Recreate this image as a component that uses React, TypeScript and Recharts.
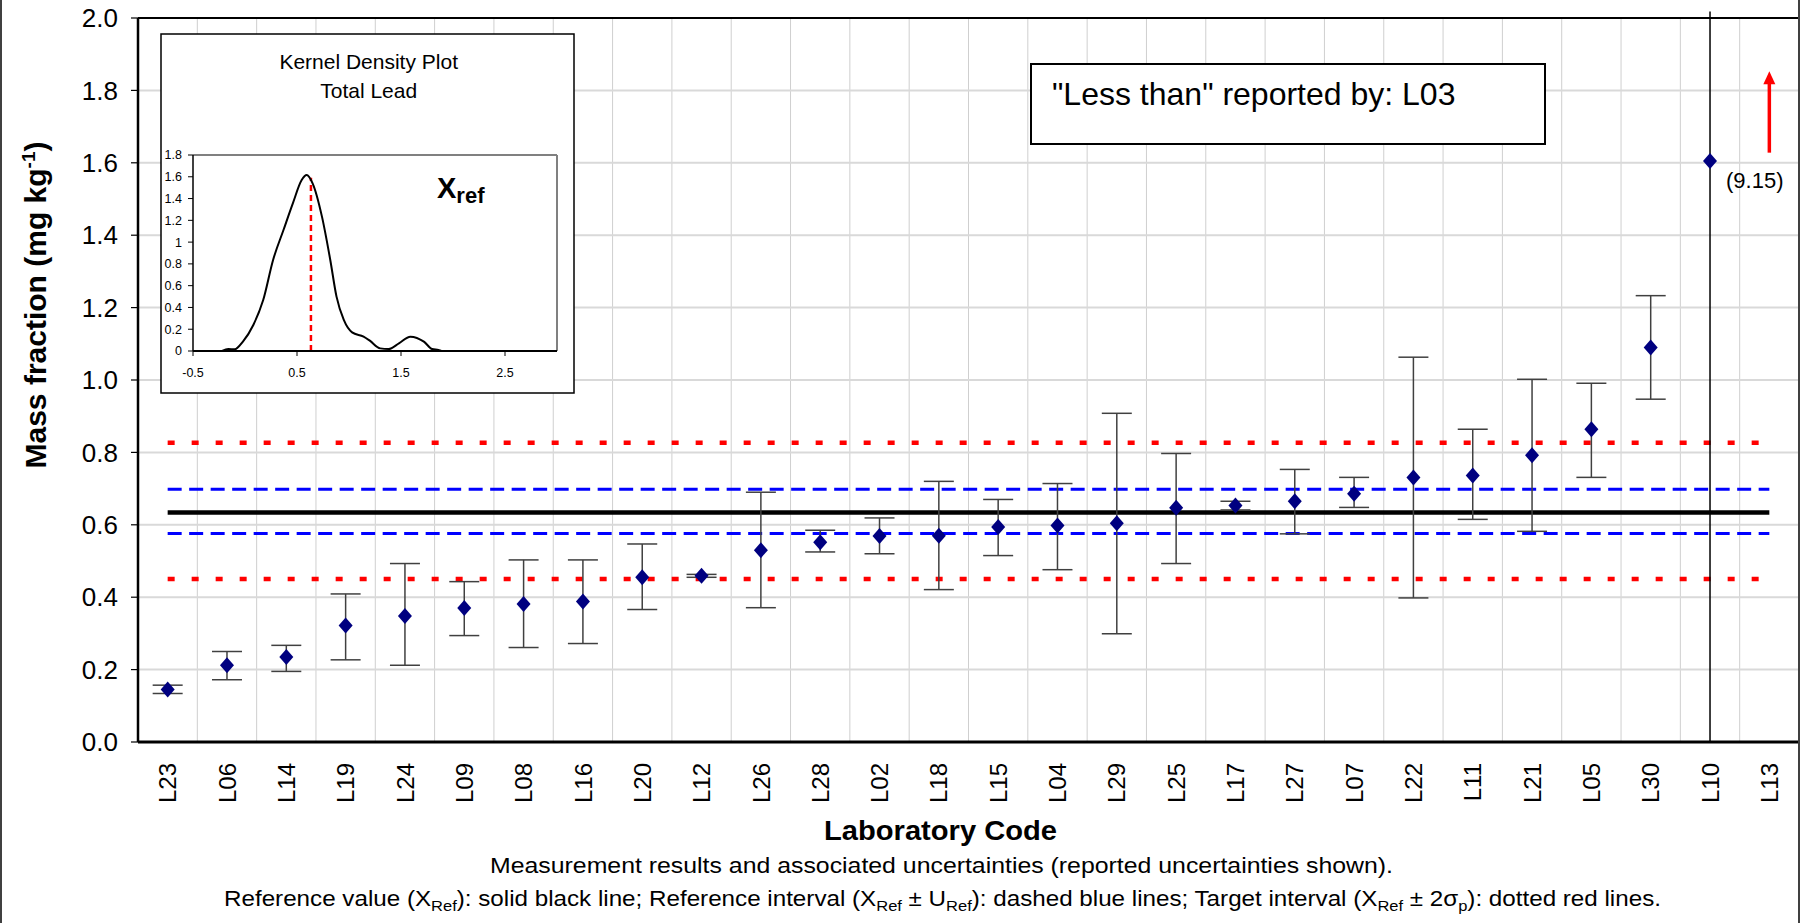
import React from 'react';
import {
  ComposedChart,
  LineChart,
  Line,
  Scatter,
  XAxis,
  YAxis,
  CartesianGrid,
  ErrorBar,
  ReferenceLine,
} from 'recharts';

// ---------- data ----------
const LABS = [
  'L23', 'L06', 'L14', 'L19', 'L24', 'L09', 'L08', 'L16', 'L20', 'L12',
  'L26', 'L28', 'L02', 'L18', 'L15', 'L04', 'L29', 'L25', 'L17', 'L27',
  'L07', 'L22', 'L11', 'L21', 'L05', 'L30', 'L10', 'L13',
];
// plotted value (L10 is off scale: reported 9.15, drawn at top; L13 has no result)
const VALUES: (number | null)[] = [
  0.145, 0.212, 0.235, 0.322, 0.348, 0.370, 0.381, 0.388, 0.455, 0.459,
  0.530, 0.552, 0.569, 0.570, 0.594, 0.598, 0.604, 0.647, 0.653, 0.665,
  0.686, 0.731, 0.736, 0.792, 0.864, 1.090, 1.605, null,
];
const LOWER: (number | null)[] = [
  0.134, 0.172, 0.195, 0.227, 0.212, 0.294, 0.261, 0.272, 0.366, 0.455,
  0.371, 0.525, 0.520, 0.421, 0.515, 0.476, 0.299, 0.493, 0.641, 0.575,
  0.648, 0.398, 0.615, 0.582, 0.731, 0.947, 0.0, null,
];
const UPPER: (number | null)[] = [
  0.157, 0.250, 0.267, 0.409, 0.493, 0.443, 0.503, 0.503, 0.547, 0.463,
  0.690, 0.585, 0.619, 0.720, 0.670, 0.714, 0.908, 0.797, 0.665, 0.753,
  0.731, 1.063, 0.864, 1.002, 0.991, 1.233, 2.018, null,
];
const OFFSCALE = ['L10'];
const OFFSCALE_LABEL = '(9.15)';

const XREF = 0.634;
const UREF_LOW = 0.576;
const UREF_HIGH = 0.698;
const TARGET_LOW = 0.45;
const TARGET_HIGH = 0.827;

const Y_TICKS = [0, 0.2, 0.4, 0.6, 0.8, 1.0, 1.2, 1.4, 1.6, 1.8, 2.0];
const ARROW_LAB = 'L13';
const ARROW_FROM = 1.628;
const ARROW_TO = 1.853;

// kernel density inset
const KDE_X = [
  -0.22, -0.16, -0.1, -0.02, 0.08, 0.175, 0.27, 0.37, 0.46, 0.545, 0.593,
  0.65, 0.74, 0.82, 0.88, 0.95, 1.03, 1.14, 1.2, 1.3, 1.38, 1.48, 1.59,
  1.72, 1.8, 1.86, 1.9, 3.0,
];
const KDE_Y = [
  0, 0.018, 0.015, 0.086, 0.239, 0.468, 0.836, 1.111, 1.356, 1.57, 1.616,
  1.54, 1.234, 0.836, 0.499, 0.285, 0.171, 0.132, 0.095, 0.024, 0.018,
  0.07, 0.132, 0.086, 0.018, 0.01, 0, 0,
];
const KDE_X_TICKS = [-0.5, 0.5, 1.5, 2.5];
const KDE_Y_TICKS = [0, 0.2, 0.4, 0.6, 0.8, 1, 1.2, 1.4, 1.6, 1.8];
const KDE_XREF_TOP = 1.59;

// ---------- derived tables ----------
const rows = LABS.map((lab, i) => {
  const v = VALUES[i];
  const lo = LOWER[i];
  const hi = UPPER[i];
  return {
    lab,
    x: i + 0.5,
    y: v,
    err: v == null || lo == null || hi == null ? null : [v - lo, hi - v],
  };
});
const mainRows = rows.filter((r) => r.y != null && !OFFSCALE.includes(r.lab));
const offRows = rows.filter((r) => OFFSCALE.includes(r.lab));
const arrowX = LABS.indexOf(ARROW_LAB) + 0.5;
const arrowRows = [{ x: arrowX, y: ARROW_TO }];
const BOUNDARY_TICKS = [...LABS.map((_, i) => i), LABS.length];
const CENTER_TICKS = LABS.map((_, i) => i + 0.5);
const FIRST = 0.5;
const LAST = LABS.length - 0.5;
const kdeRows = KDE_X.map((x, i) => ({ x, d: KDE_Y[i] }));

const FONT = '"Liberation Sans", Arial, sans-serif';

const verticalGen = (props: any) => {
  const xa = props && props.xAxis;
  if (xa && typeof xa.scale === 'function') {
    return BOUNDARY_TICKS.map((t) => xa.scale(t));
  }
  const off = props.offset;
  return BOUNDARY_TICKS.map((t) => off.left + (t * off.width) / LABS.length);
};

const Diamond = (p: any) => {
  const { cx, cy } = p;
  if (cx == null || cy == null) return null;
  return (
    <polygon
      points={`${cx},${cy - 8} ${cx + 7},${cy} ${cx},${cy + 8} ${cx - 7},${cy}`}
      fill="#000080"
    />
  );
};

const ArrowHead = (p: any) => {
  const { cx, cy } = p;
  if (cx == null || cy == null) return null;
  return <polygon points={`${cx},${cy} ${cx + 6},${cy + 13} ${cx - 6},${cy + 13}`} fill="#FF0000" />;
};

const LabTick = (p: any) => {
  const { x, y, payload } = p;
  const lab = LABS[Math.floor(payload.value)];
  return (
    <text
      transform={`translate(${x},${y + 13}) rotate(-90)`}
      textAnchor="end"
      dy="0.36em"
      fontSize={24}
      fontFamily={FONT}
      fill="#000"
    >
      {lab}
    </text>
  );
};

export default function App() {
  return (
    <div
      style={{
        position: 'absolute',
        left: 0,
        top: 0,
        width: 1800,
        height: 923,
        background: '#fff',
        overflow: 'hidden',
        fontFamily: FONT,
      }}
    >
      <div style={{ position: 'absolute', left: 0, top: 0 }}>
        <ComposedChart
          width={1800}
          height={923}
          margin={{ top: 18, right: 1, left: 0, bottom: 103 }}
        >
          <CartesianGrid
            xAxisId="grid"
            horizontal={false}
            vertical
            verticalCoordinatesGenerator={verticalGen}
            stroke="#cfcfcf"
            strokeWidth={1}
          />
          <CartesianGrid xAxisId="grid" vertical={false} stroke="#d9d9d9" strokeWidth={2} />
          <XAxis
            xAxisId="grid"
            type="number"
            dataKey="x"
            domain={[0, LABS.length]}
            ticks={BOUNDARY_TICKS}
            interval={0}
            allowDataOverflow
            tick={false}
            tickSize={7}
            height={8}
            axisLine={{ stroke: '#000', strokeWidth: 3 }}
            tickLine={{ stroke: '#000', strokeWidth: 1.2 }}
          />
          <XAxis
            xAxisId="lab"
            type="number"
            dataKey="x"
            domain={[0, LABS.length]}
            ticks={CENTER_TICKS}
            interval={0}
            allowDataOverflow
            axisLine={false}
            tickLine={false}
            tickSize={0}
            tickMargin={0}
            height={70}
            tick={<LabTick />}
          />
          <YAxis
            type="number"
            dataKey="y"
            domain={[0, 2]}
            ticks={Y_TICKS}
            interval={0}
            allowDataOverflow
            width={138}
            tickSize={7}
            tickMargin={13}
            tickFormatter={(v: number) => v.toFixed(1)}
            axisLine={{ stroke: '#000', strokeWidth: 2.5 }}
            tickLine={{ stroke: '#000', strokeWidth: 1.2 }}
            tick={{ fill: '#000', fontSize: 26, fontFamily: FONT }}
          />
          <ReferenceLine xAxisId="grid" y={2} stroke="#000" strokeWidth={2} />
          <ReferenceLine xAxisId="grid" x={LABS.length} stroke="#000" strokeWidth={1.5} />

          <ReferenceLine
            xAxisId="grid"
            segment={[{ x: FIRST, y: TARGET_HIGH }, { x: LAST, y: TARGET_HIGH }]}
            stroke="#FF0000"
            strokeWidth={4.5}
            strokeDasharray="7 17"
          />
          <ReferenceLine
            xAxisId="grid"
            segment={[{ x: FIRST, y: TARGET_LOW }, { x: LAST, y: TARGET_LOW }]}
            stroke="#FF0000"
            strokeWidth={4.5}
            strokeDasharray="7 17"
          />
          <ReferenceLine
            xAxisId="grid"
            segment={[{ x: FIRST, y: UREF_HIGH }, { x: LAST, y: UREF_HIGH }]}
            stroke="#0000FF"
            strokeWidth={3}
            strokeDasharray="14 7.5"
          />
          <ReferenceLine
            xAxisId="grid"
            segment={[{ x: FIRST, y: UREF_LOW }, { x: LAST, y: UREF_LOW }]}
            stroke="#0000FF"
            strokeWidth={3}
            strokeDasharray="14 7.5"
          />
          <ReferenceLine
            xAxisId="grid"
            segment={[{ x: FIRST, y: XREF }, { x: LAST, y: XREF }]}
            stroke="#000"
            strokeWidth={4.5}
          />
          <ReferenceLine
            xAxisId="grid"
            segment={[{ x: arrowX, y: ARROW_FROM }, { x: arrowX, y: ARROW_TO - 0.03 }]}
            stroke="#FF0000"
            strokeWidth={3.5}
          />

          <Scatter
            xAxisId="grid"
            data={mainRows}
            dataKey="y"
            shape={Diamond}
            isAnimationActive={false}
          >
            <ErrorBar
              dataKey="err"
              direction="y"
              width={15}
              stroke="#404040"
              strokeWidth={1.5}
              isAnimationActive={false}
            />
          </Scatter>
          <Scatter
            xAxisId="grid"
            data={offRows}
            dataKey="y"
            shape={Diamond}
            isAnimationActive={false}
          >
            <ErrorBar
              dataKey="err"
              direction="y"
              width={0}
              stroke="#000"
              strokeWidth={1.5}
              isAnimationActive={false}
            />
          </Scatter>
          <Scatter
            xAxisId="grid"
            data={arrowRows}
            dataKey="y"
            shape={ArrowHead}
            isAnimationActive={false}
          />
        </ComposedChart>
      </div>

      {/* Kernel density inset */}
      <div style={{ position: 'absolute', left: 161, top: 34, width: 413, height: 359, background: '#fff' }}>
        <LineChart
          width={413}
          height={359}
          data={kdeRows}
          margin={{ top: 121, right: 17, left: 0, bottom: 0 }}
        >
          <XAxis
            type="number"
            dataKey="x"
            domain={[-0.5, 3]}
            ticks={KDE_X_TICKS}
            interval={0}
            allowDataOverflow
            tickSize={5}
            tickMargin={12}
            height={42}
            axisLine={{ stroke: '#000', strokeWidth: 2 }}
            tickLine={{ stroke: '#000' }}
            tick={{ fill: '#000', fontSize: 12.5, fontFamily: FONT }}
          />
          <YAxis
            type="number"
            domain={[0, 1.8]}
            ticks={KDE_Y_TICKS}
            interval={0}
            allowDataOverflow
            width={32}
            tickSize={5}
            tickMargin={6}
            tickFormatter={(v: number) => String(Math.round(v * 10) / 10)}
            axisLine={{ stroke: '#000', strokeWidth: 1.5 }}
            tickLine={{ stroke: '#000' }}
            tick={{ fill: '#000', fontSize: 12.5, fontFamily: FONT }}
          />
          <ReferenceLine y={1.8} stroke="#808080" strokeWidth={2} />
          <ReferenceLine x={3} stroke="#808080" strokeWidth={2} />
          <ReferenceLine
            segment={[{ x: XREF, y: 0 }, { x: XREF, y: KDE_XREF_TOP }]}
            stroke="#FF0000"
            strokeWidth={2.5}
            strokeDasharray="6 4"
          />
          <Line
            dataKey="d"
            type="monotone"
            stroke="#000"
            strokeWidth={2}
            dot={false}
            isAnimationActive={false}
          />
        </LineChart>
      </div>

      {/* text and frames */}
      <svg
        width={1800}
        height={923}
        style={{ position: 'absolute', left: 0, top: 0, pointerEvents: 'none' }}
        fontFamily={FONT}
      >
        <rect x={0} y={0} width={2} height={923} fill="#404040" />
        <rect x={1798} y={0} width={2} height={923} fill="#404040" />

        <rect x={161} y={34} width={413} height={359} fill="none" stroke="#000" strokeWidth={1.5} />
        <text x={368.7} y={69} textAnchor="middle" fontSize={21} fill="#000">Kernel Density Plot</text>
        <text x={368.7} y={98} textAnchor="middle" fontSize={21} fill="#000">Total Lead</text>
        <text x={437} y={198} fontSize={29} fontWeight="bold" fill="#000">
          X<tspan fontSize={22} dy={5}>ref</tspan>
        </text>

        <rect x={1031} y={64} width={514} height={80} fill="#fff" stroke="#000" strokeWidth={2} />
        <text x={1052} y={105} fontSize={32} fill="#000">"Less than" reported by: L03</text>

        <text x={1726} y={188} fontSize={22} fill="#000">{OFFSCALE_LABEL}</text>

        <text
          transform="translate(46,305) rotate(-90)"
          textAnchor="middle"
          fontSize={30}
          fontWeight="bold"
          fill="#000"
        >
          Mass fraction (mg kg<tspan fontSize={19} dy={-11}>-1</tspan>
          <tspan dy={11}>)</tspan>
        </text>

        <text
          x={824}
          y={840}
          fontSize={28}
          fontWeight="bold"
          fill="#000"
          textLength={233}
          lengthAdjust="spacingAndGlyphs"
        >
          Laboratory Code
        </text>
        <text
          x={490}
          y={873}
          fontSize={22}
          fill="#000"
          textLength={903}
          lengthAdjust="spacingAndGlyphs"
        >
          Measurement results and associated uncertainties (reported uncertainties shown).
        </text>
        <text
          x={224}
          y={906}
          fontSize={22}
          fill="#000"
          textLength={1437}
          lengthAdjust="spacingAndGlyphs"
        >
          Reference value (X<tspan fontSize={15} dy={5}>Ref</tspan>
          <tspan dy={-5}>): solid black line; Reference interval (X</tspan>
          <tspan fontSize={15} dy={5}>Ref</tspan>
          <tspan dy={-5}> ± U</tspan>
          <tspan fontSize={15} dy={5}>Ref</tspan>
          <tspan dy={-5}>): dashed blue lines; Target interval (X</tspan>
          <tspan fontSize={15} dy={5}>Ref</tspan>
          <tspan dy={-5}> ± 2σ</tspan>
          <tspan fontSize={15} dy={5}>p</tspan>
          <tspan dy={-5}>): dotted red lines.</tspan>
        </text>
      </svg>
    </div>
  );
}
